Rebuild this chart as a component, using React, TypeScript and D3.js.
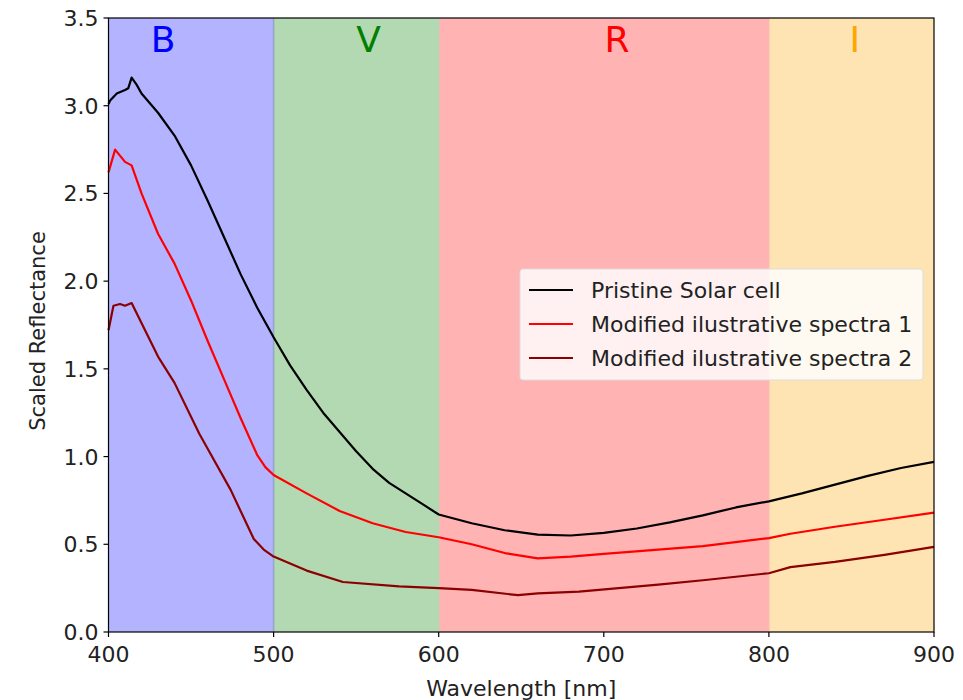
import React from "react";
import * as d3 from "d3";

const pristineX = [400, 401, 405, 410, 412, 414, 417, 420, 430, 440, 450, 460, 470, 480, 490, 500, 510, 520, 530, 540, 550, 560, 570, 580, 590, 600, 620, 640, 660, 680, 700, 720, 740, 760, 780, 800, 820, 840, 860, 880, 900];
const pristineY = [3.01, 3.03, 3.07, 3.09, 3.10, 3.16, 3.12, 3.07, 2.96, 2.83, 2.66, 2.46, 2.25, 2.04, 1.85, 1.68, 1.52, 1.38, 1.25, 1.14, 1.03, 0.93, 0.85, 0.79, 0.73, 0.67, 0.62, 0.58, 0.555, 0.55, 0.565, 0.59, 0.625, 0.665, 0.71, 0.745, 0.79, 0.84, 0.89, 0.935, 0.97];

const spec1X = [400, 404, 410, 414, 420, 430, 440, 450, 460, 470, 480, 490, 495, 500, 520, 540, 560, 580, 600, 620, 640, 660, 680, 700, 733, 760, 800, 813, 840, 870, 900];
const spec1Y = [2.62, 2.75, 2.68, 2.66, 2.50, 2.27, 2.10, 1.89, 1.66, 1.44, 1.22, 1.01, 0.94, 0.895, 0.79, 0.69, 0.62, 0.57, 0.54, 0.50, 0.45, 0.42, 0.43, 0.445, 0.47, 0.49, 0.535, 0.56, 0.60, 0.64, 0.68];

const spec2X = [400, 403, 407, 410, 414, 430, 440, 455, 474, 488, 494, 500, 520, 542, 576, 600, 620, 648, 660, 685, 733, 760, 800, 813, 840, 870, 900];
const spec2Y = [1.72, 1.86, 1.87, 1.86, 1.875, 1.57, 1.42, 1.13, 0.81, 0.53, 0.47, 0.43, 0.35, 0.285, 0.26, 0.25, 0.24, 0.21, 0.22, 0.23, 0.27, 0.295, 0.335, 0.37, 0.40, 0.44, 0.485];

const bandNames = ["B", "V", "R", "I"];
const bandStarts = [400, 500, 600, 800];
const bandEnds = [500, 600, 800, 900];
const bandFills = ["rgb(179,179,255)", "rgb(179,217,179)", "rgb(255,179,179)", "rgb(255,228,179)"];
const bandTextColors = ["#0000ff", "#008000", "#ff0000", "#ffa500"];
const bandLabelX = [433, 557.5, 708, 852];

const seriesNames = ["Pristine Solar cell", "Modified ilustrative spectra 1", "Modified ilustrative spectra 2"];
const seriesColors = ["#000000", "#ff0000", "#8b0000"];

const xTicks = [400, 500, 600, 700, 800, 900];
const yTicks = [0, 0.5, 1.0, 1.5, 2.0, 2.5, 3.0, 3.5];

export default function App() {
  const W = 963, H = 700;
  const left = 108.5, right = 934, top = 18, bottom = 632;
  const x = d3.scaleLinear().domain([400, 900]).range([left, right]);
  const y = d3.scaleLinear().domain([0, 3.5]).range([bottom, top]);
  const line = d3.line<[number, number]>().x(d => x(d[0])).y(d => y(d[1]));
  const series = [
    pristineX.map((v, i) => [v, pristineY[i]] as [number, number]),
    spec1X.map((v, i) => [v, spec1Y[i]] as [number, number]),
    spec2X.map((v, i) => [v, spec2Y[i]] as [number, number]),
  ];
  const font = "'DejaVu Sans', sans-serif";
  const fs = 22;
  return (
    <svg width={W} height={H} style={{ position: "absolute", left: 0, top: 0, background: "#fff" }} fontFamily={font}>
      {bandNames.map((b, i) => (
        <rect key={b} x={x(bandStarts[i])} y={top} width={x(bandEnds[i]) - x(bandStarts[i])} height={bottom - top} fill={bandFills[i]} />
      ))}
      {bandStarts.slice(1).map((s, i) => (
        <line key={i} x1={x(s)} x2={x(s)} y1={top} y2={bottom} stroke={i === 0 ? "#8a9ac8" : bandFills[i]} strokeWidth={1.5} opacity={0.8} />
      ))}
      {bandNames.map((b, i) => (
        <text key={b} x={x(bandLabelX[i])} y={52} textAnchor="middle" fontSize={36} fill={bandTextColors[i]}>{b}</text>
      ))}
      {series.map((s, i) => (
        <path key={i} d={line(s) || ""} fill="none" stroke={seriesColors[i]} strokeWidth={2.2} strokeLinejoin="round" />
      ))}
      <rect x={left} y={top} width={right - left} height={bottom - top} fill="none" stroke="#000" strokeWidth={1.2} />
      {xTicks.map(t => (
        <g key={t}>
          <line x1={x(t)} x2={x(t)} y1={bottom} y2={bottom + 5} stroke="#000" strokeWidth={1.2} />
          <text x={x(t)} y={bottom + 30} textAnchor="middle" fontSize={fs} fill="#222">{t}</text>
        </g>
      ))}
      {yTicks.map(t => (
        <g key={t}>
          <line x1={left - 5} x2={left} y1={y(t)} y2={y(t)} stroke="#000" strokeWidth={1.2} />
          <text x={left - 10} y={y(t) + 8} textAnchor="end" fontSize={fs} fill="#222">{t.toFixed(1)}</text>
        </g>
      ))}
      <text x={(left + right) / 2} y={696} textAnchor="middle" fontSize={fs} fill="#222">Wavelength [nm]</text>
      <text transform={`translate(45, ${(top + bottom) / 2 + 6}) rotate(-90)`} textAnchor="middle" fontSize={21} fill="#222">Scaled Reflectance</text>
      <g>
        <rect x={520} y={269} width={403} height={111} rx={3} fill="#ffffff" fillOpacity={0.82} stroke="#dddddd" />
        {seriesNames.map((n, i) => (
          <g key={n}>
            <line x1={529} x2={573} y1={290 + i * 34} y2={290 + i * 34} stroke={seriesColors[i]} strokeWidth={2.2} />
            <text x={591} y={298 + i * 34} fontSize={fs} fill="#222">{n}</text>
          </g>
        ))}
      </g>
    </svg>
  );
}
